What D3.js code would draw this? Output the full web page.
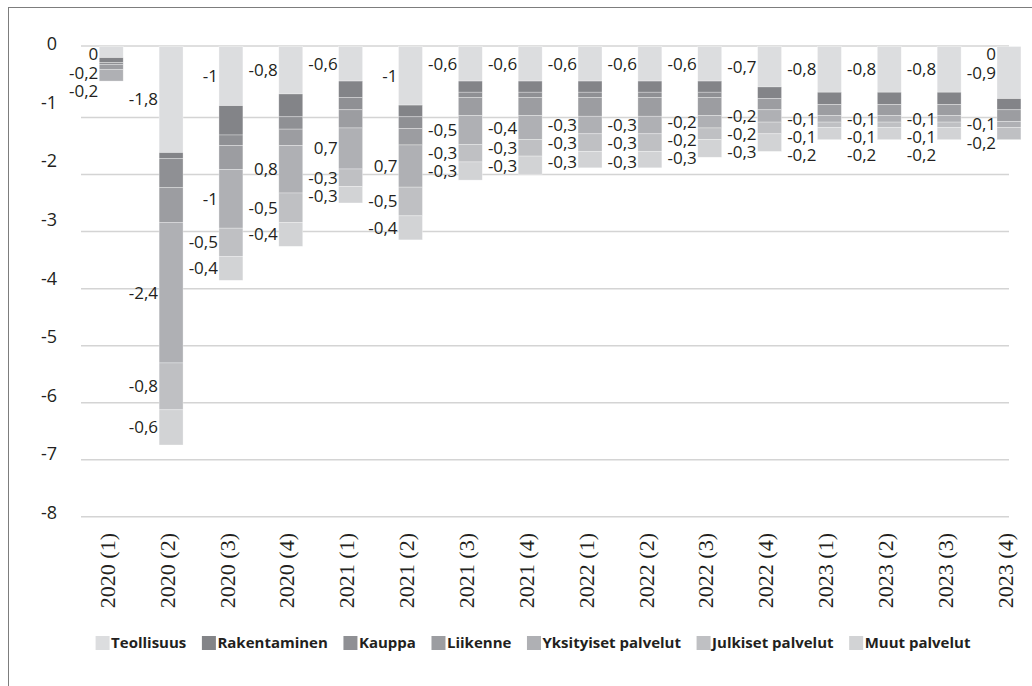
<!DOCTYPE html>
<html lang="fi">
<head>
<meta charset="UTF-8">
<title>Kuvio</title>
<script src="https://d3js.org/d3.v7.min.js"></script>
<style>
  body { margin: 0; background: #fff; }
  svg text { fill: #231f20; }
  .lbl { font: 17px "Open Sans", sans-serif; }
  .yaxis text { font: 18px "Open Sans", sans-serif; }
  .legend text { font: bold 15px "Open Sans", sans-serif; }
</style>
</head>
<body>
<div id="chart"></div>
<script>
var quarters = ["2020 (1)", "2020 (2)", "2020 (3)", "2020 (4)", "2021 (1)", "2021 (2)", "2021 (3)", "2021 (4)",
                "2022 (1)", "2022 (2)", "2022 (3)", "2022 (4)", "2023 (1)", "2023 (2)", "2023 (3)", "2023 (4)"];
var series = ["Teollisuus", "Rakentaminen", "Kauppa", "Liikenne", "Yksityiset palvelut", "Julkiset palvelut", "Muut palvelut"];
var colors = ["#dcdddf", "#838488", "#8f9094", "#9c9da1", "#afb0b4", "#bfc0c3", "#d2d3d5"];

// values
var teollisuus = [-0.19, -1.81, -1.01, -0.81, -0.59, -1.0, -0.59, -0.59, -0.59, -0.59, -0.59, -0.69, -0.78, -0.78, -0.78, -0.89];
var rakentaminen = [-0.085, -0.1, -0.5, -0.39, -0.28, -0.2, -0.19, -0.19, -0.19, -0.19, -0.19, -0.2, -0.21, -0.21, -0.21, -0.19];
var kauppa = [-0.03, -0.5, -0.18, -0.21, -0.21, -0.2, -0.09, -0.09, -0.09, -0.09, -0.09, 0, 0, 0, 0, 0];
var liikenne = [-0.085, -0.59, -0.41, -0.28, -0.31, -0.28, -0.31, -0.31, -0.32, -0.32, -0.31, -0.19, -0.19, -0.19, -0.19, -0.2];
var yksityiset = [-0.2, -2.4, -1.0, -0.81, -0.7, -0.72, -0.49, -0.41, -0.3, -0.3, -0.21, -0.21, -0.11, -0.11, -0.11, -0.1];
var julkiset = [0, -0.8, -0.48, -0.5, -0.3, -0.49, -0.3, -0.28, -0.3, -0.3, -0.2, -0.2, -0.09, -0.09, -0.09, -0.21];
var muut = [0, -0.6, -0.41, -0.41, -0.28, -0.41, -0.31, -0.31, -0.28, -0.28, -0.3, -0.3, -0.21, -0.21, -0.21, 0];

// data label texts as printed
var zeroLabels = ["0", null, null, null, null, null, null, null, null, null, null, null, null, null, null, "0"];
var teollisuusLabels = ["-0,2", "-1,8", "-1", "-0,8", "-0,6", "-1", "-0,6", "-0,6", "-0,6", "-0,6", "-0,6", "-0,7", "-0,8", "-0,8", "-0,8", "-0,9"];
var yksityisetLabels = ["-0,2", "-2,4", "-1", "0,8", "0,7", "0,7", "-0,5", "-0,4", "-0,3", "-0,3", "-0,2", "-0,2", "-0,1", "-0,1", "-0,1", "-0,1"];
var julkisetLabels = [null, "-0,8", "-0,5", "-0,5", "-0,3", "-0,5", "-0,3", "-0,3", "-0,3", "-0,3", "-0,2", "-0,2", "-0,1", "-0,1", "-0,1", "-0,2"];
var muutLabels = [null, "-0,6", "-0,4", "-0,4", "-0,3", "-0,4", "-0,3", "-0,3", "-0,3", "-0,3", "-0,3", "-0,3", "-0,2", "-0,2", "-0,2", null];
var yTicks = [0, -1, -2, -3, -4, -5, -6, -7, -8];

var columns = [teollisuus, rakentaminen, kauppa, liikenne, yksityiset, julkiset, muut];
var rows = quarters.map(function(q, i) {
  var r = { q: q };
  series.forEach(function(s, j) { r[s] = columns[j][i]; });
  return r;
});

var W = 1032, H = 686;
var svg = d3.select("#chart").append("svg").attr("width", W).attr("height", H);

// frame
svg.append("rect").attr("x", 8.5).attr("y", 7.5).attr("width", 1100).attr("height", 1000)
  .attr("fill", "none").attr("stroke", "#7d7d7d").attr("stroke-width", 1);

var gridLeft = 81, gridRight = 1009;
var y = d3.scaleLinear().domain([0, -8]).range([46.5, 515.3]);
// the grid in the original sits on its own slightly different spacing
var gridY = d3.scaleLinear().domain([0, -8]).range([y(0) + 14, y(-8) + 1.5]);
var x = d3.scaleBand().domain(quarters).range([81.3, 1038.9]).paddingInner(0.6).paddingOuter(0.3);

var grid = svg.append("g");
grid.append("line").attr("x1", gridLeft).attr("x2", gridRight).attr("y1", y(0) - 0.5).attr("y2", y(0) - 0.5)
  .attr("stroke", "#d4d4d4").attr("stroke-width", 1.5);
grid.selectAll(".g").data(yTicks.slice(1)).enter().append("line")
  .attr("x1", gridLeft).attr("x2", gridRight)
  .attr("y1", function(d) { return gridY(d); }).attr("y2", function(d) { return gridY(d); })
  .attr("stroke", "#d4d4d4").attr("stroke-width", 1.5);

// y axis labels
var yAxis = svg.append("g").attr("class", "yaxis").attr("transform", "translate(" + gridLeft + ",0)")
  .call(d3.axisLeft(y).tickValues(yTicks).tickSize(0).tickPadding(24).tickFormat(function(d) { return String(d); }));
yAxis.select(".domain").remove();
yAxis.selectAll("text").attr("y", -2.5).attr("font-family", null).attr("font-size", null);

// bars (negative values: d[1] is the upper edge, d[0] the lower)
var stack = d3.stack().keys(series).offset(d3.stackOffsetDiverging)(rows);
svg.append("g").selectAll("g").data(stack).enter().append("g")
  .attr("fill", function(d, i) { return colors[i]; })
  .selectAll("rect").data(function(d) { return d; }).enter().append("rect")
  .attr("x", function(d) { return x(d.data.q); })
  .attr("width", x.bandwidth())
  .attr("y", function(d) { return y(Math.max(d[0], d[1])); })
  .attr("height", function(d) { return Math.abs(y(d[0]) - y(d[1])); })
  .attr("stroke", "#ffffff").attr("stroke-opacity", 0.5).attr("stroke-width", 0.6);

// data labels, left of each bar, pushed down when they would overlap
var labelSets = [[0, teollisuusLabels], [4, yksityisetLabels], [5, julkisetLabels], [6, muutLabels]];
var lblG = svg.append("g");
quarters.forEach(function(q, i) {
  var list = [];
  if (zeroLabels[i]) list.push({ t: zeroLabels[i], want: y(0) + 8 });
  labelSets.forEach(function(ls) {
    var t = ls[1][i];
    if (!t) return;
    var seg = stack[ls[0]][i];
    list.push({ t: t, want: (y(seg[0]) + y(seg[1])) / 2 });
  });
  var prev = -Infinity;
  list.forEach(function(l) {
    l.y = Math.max(l.want, prev + 18.3);
    prev = l.y;
  });
  lblG.selectAll(null).data(list).enter().append("text")
    .attr("class", "lbl")
    .attr("x", x(q) - 1)
    .attr("y", function(d) { return d.y; })
    .attr("dy", "0.35em")
    .attr("text-anchor", "end")
    .text(function(d) { return d.t; });
});

// x labels
svg.append("g").selectAll("text").data(quarters).enter().append("text")
  .attr("font-family", "'Liberation Serif', 'DejaVu Serif', serif")
  .attr("font-size", 22)
  .attr("transform", function(d) { return "translate(" + (x(d) + x.bandwidth() / 2 - 4) + ",533) rotate(-90)"; })
  .attr("text-anchor", "end")
  .attr("dy", "0.35em")
  .text(function(d) { return d; });

// legend
var legend = svg.append("g").attr("class", "legend");
var items = legend.selectAll("g").data(series).enter().append("g");
items.append("rect").attr("width", 14).attr("height", 14).attr("y", 636)
  .attr("fill", function(d, i) { return colors[i]; });
items.append("text").attr("x", 15.5).attr("y", 643).attr("dy", "0.35em").text(function(d) { return d; });
var pos = 0, offs = [];
items.each(function() {
  offs.push(pos);
  pos += 15.5 + this.querySelector("text").getComputedTextLength() + 15.6;
});
var total = pos - 15.6;
var start = 533 - total / 2;
items.attr("transform", function(d, i) { return "translate(" + (start + offs[i]) + ",0)"; });
</script>
</body>
</html>
